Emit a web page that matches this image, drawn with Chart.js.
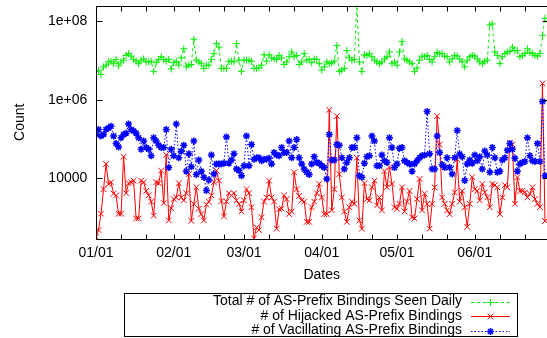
<!DOCTYPE html>
<html>
<head>
<meta charset="utf-8">
<script src="https://cdn.jsdelivr.net/npm/chart.js@4.4.1/dist/chart.umd.min.js"></script>
<style>
  html, body { margin: 0; padding: 0; width: 547px; height: 338px; overflow: hidden; background: #fff; }
  #wrap { width: 553px; height: 338px; }
</style>
</head>
<body>
<div id="wrap"><canvas id="chart" width="553" height="338"></canvas></div>
<script>
// series names, as in the key
const seriesNames = [
  'Total # of AS-Prefix Bindings Seen Daily',
  '# of Hijacked AS-Prefix Bindings',
  '# of Vacillating AS-Prefix Bindings'
];

// x axis: day index from 01/01, labels on month starts, tick marks on 1st/11th/21st
const monthLabels = ['01/01', '02/01', '03/01', '04/01', '05/01', '06/01'];
const monthDays = [0, 31, 59, 90, 120, 151];
const tickDays = [0, 10, 20, 31, 41, 51, 59, 69, 79, 90, 100, 110, 120, 130, 140, 151, 161, 171];

// y axis (log)
const yTickValues = [1e4, 1e6, 1e8];
const yTickLabels = ['10000', '1e+06', '1e+08'];

// daily counts, one value per day from 01/01
const totalSeen = [
  5.2e6, 5.6e6, 4.4e6, 6.9e6, 7.6e6, 9.2e6, 9.6e6, 8.3e6, 1.07e7, 7.3e6,
  9.2e6, 1.02e7, 1.35e7, 1.5e7, 1.3e7, 1.07e7, 9.6e6, 8.3e6, 1.02e7, 1.1e7,
  9.2e6, 9.2e6, 9.6e6, 5.2e6, 8.8e6, 1.07e7, 1.25e7, 1.07e7, 9.6e6, 1.07e7,
  6.1e6, 8.8e6, 9.6e6, 7.6e6, 1.17e7, 2.0e7, 6.9e6, 7.6e6, 7.9e6, 3.5e7,
  1.02e7, 9.2e6, 8.3e6, 6.3e6, 7.6e6, 7.6e6, 1.07e7, 1.5e7, 2.7e7, 2.2e7,
  6.3e6, 6.3e6, 6.3e6, 9.6e6, 9.6e6, 9.2e6, 2.7e7, 1.02e7, 5.3e6, 1.02e7,
  1.02e7, 1.02e7, 9.6e6, 6.3e6, 6.3e6, 6.5e6, 7.6e6, 1.4e7, 9.6e6, 1.4e7,
  1.17e7, 1.1e7, 1.07e7, 1.35e7, 1.17e7, 7.9e6, 9.2e6, 1.25e7, 1.66e7, 1.25e7,
  1.35e7, 7.9e6, 9.2e6, 1.5e7, 1.02e7, 1.07e7, 8.8e6, 1.1e7, 1.07e7, 8.3e6,
  5.7e6, 6.9e6, 9.2e6, 8.3e6, 8.8e6, 9.6e6, 2.4e7, 5.3e6, 5.7e6, 6.3e6,
  1.8e7, 1.17e7, 1.02e7, 1.07e7, 3e8, 9.2e6, 5.2e6, 1.4e7, 1.35e7, 1.5e7,
  1.25e7, 1.02e7, 9.2e6, 8.3e6, 9.2e6, 1.1e7, 1.25e7, 1.66e7, 8.3e6, 9.2e6,
  7.6e6, 1.66e7, 3.1e7, 1.1e7, 1.02e7, 9.2e6, 8.3e6, 5.2e6, 6.5e6, 1.02e7,
  1.3e7, 1.25e7, 1.35e7, 1.07e7, 9.2e6, 1.25e7, 1.6e7, 1.5e7, 1.5e7, 1.3e7,
  1.25e7, 9.2e6, 1.1e7, 1.35e7, 1.3e7, 1.1e7, 9.2e6, 6.9e6, 1.02e7, 1.25e7,
  1.35e7, 1.3e7, 1.1e7, 9.2e6, 8.3e6, 9.6e6, 1.02e7, 8.1e7, 8.6e7, 1.66e7,
  1.35e7, 8.3e6, 1.25e7, 1.5e7, 1.66e7, 1.7e7, 2.2e7, 1.8e7, 1.8e7, 1.25e7,
  1.35e7, 1.5e7, 2.0e7, 1.6e7, 1.5e7, 1.35e7, 1.3e7, 1.5e7, 4.4e7, 1.2e8
];

const hijacked = [
  310, 470, 1230, 5200, 23000, 7100, 7800, 4000, 3600, 1230,
  1230, 35000, 4100, 7400, 7800, 8600, 930, 930, 8600, 7800,
  4700, 3600, 2500, 1100, 7800, 7400, 15500, 2300, 39000, 830,
  1700, 2900, 3200, 7400, 3200, 2700, 4100, 12600, 810, 2200,
  5800, 1650, 1200, 830, 2100, 2500, 3600, 7800, 15500, 8600,
  2600, 1050, 2500, 4100, 3600, 4100, 2700, 2200, 1400, 2700,
  5200, 4100, 1800, 290, 550, 470, 1000, 2500, 3200, 8600,
  3200, 2500, 510, 1600, 1650, 3600, 2900, 1200, 1400, 14000,
  5200, 3500, 2700, 2500, 760, 760, 1800, 2500, 4100, 7100,
  3200, 1200, 1200, 5.5e5, 1500, 5200, 3.8e5, 12600, 3200, 1400,
  760, 1800, 2500, 2200, 33000, 830, 510, 7400, 2900, 2700,
  5800, 8600, 2000, 3200, 1500, 15000, 5800, 19000, 7100, 1800,
  1650, 2200, 5800, 1400, 2500, 4700, 1000, 930, 2900, 9500,
  1500, 4000, 2200, 510, 2200, 5800, 3.8e5, 72000, 3200, 2200,
  1500, 1200, 2200, 4300, 30000, 2500, 4700, 1800, 570, 2200,
  10500, 5200, 4700, 2700, 7100, 4300, 3200, 1800, 7100, 6600,
  5800, 1200, 3200, 6600, 5800, 80000, 72000, 2200, 10500, 4700,
  4700, 4300, 3200, 4000, 5800, 2900, 2200, 1800, 2.6e6, 800
];

const vacillating = [
  1.3e5, 1.73e5, 1.18e5, 1.3e5, 1.73e5, 1.9e5, 2.1e5, 1.18e5, 7.6e4, 6.2e4,
  1.07e5, 1.3e5, 1.4e5, 2.4e5, 1.73e5, 1.6e5, 1.4e5, 1.07e5, 5.4e4, 8.8e4,
  6e4, 5.4e4, 3.7e4, 1.07e5, 8.8e4, 6.9e4, 6e4, 6e4, 1.73e5, 1.86e4,
  5.4e4, 3.7e4, 2.4e5, 3.3e4, 4.8e4, 6.9e4, 1.5e4, 4.2e4, 1.95e4, 8.8e4,
  1.23e4, 2.9e4, 1.5e4, 1.05e4, 4.8e3, 8.9e3, 3.9e4, 1.26e4, 2.3e4, 2.3e4,
  2.3e4, 2.4e4, 1.12e5, 2.4e4, 2.9e4, 4.2e4, 1.7e4, 1.55e4, 1.15e4, 2.05e4,
  1.18e5, 2.05e4, 7.2e4, 3e4, 3.3e4, 3.3e4, 2.75e4, 3e4, 3e4, 3.2e4,
  2.3e4, 4.5e4, 3.9e4, 3.7e4, 6e4, 4.5e4, 4.5e4, 8.8e4, 3.3e4, 6e4,
  9.6e4, 3.3e4, 2.3e4, 1.7e4, 1.4e4, 1.23e4, 2.3e4, 3.5e4, 2.5e4, 2.4e4,
  2.05e4, 1.86e4, 9.5e3, 1.3e5, 2.9e4, 2.9e4, 7.2e4, 6.9e4, 3.3e4, 1.7e4,
  2.5e4, 3.3e4, 6e4, 6e4, 1.07e5, 1.15e4, 1.05e4, 2.4e4, 3.5e4, 3.7e4,
  1.18e5, 8.8e4, 2.05e4, 2.05e4, 3.9e4, 2.75e4, 2.5e4, 1.07e5, 6e4, 1.86e4,
  2.3e4, 5.8e4, 6e4, 2.75e4, 2.5e4, 2.3e4, 1.5e4, 2.3e4, 2.75e4, 3.3e4,
  3.7e4, 3.9e4, 5e5, 4.2e4, 1.7e4, 1.7e4, 1.18e5, 4.5e4, 2.2e4, 1.86e4,
  3.3e4, 1.86e4, 1.26e4, 3.3e4, 1.63e5, 4.1e4, 3.5e4, 8.6e3, 2.3e4, 2.9e4,
  2.4e4, 3.9e4, 2.75e4, 3.5e4, 1.7e4, 4.9e4, 3.9e4, 1.4e4, 6e4, 3.3e4,
  1.4e4, 1.5e4, 2.9e4, 3.3e4, 5.1e4, 7.6e4, 5.4e4, 3.2e4, 1.5e4, 2.3e4,
  2.5e4, 2.65e4, 1.07e5, 3.7e4, 2.75e4, 2.65e4, 7.6e4, 2.65e4, 9e5, 1.15e4
];

const FONT = { family: "'Liberation Sans', Arial, sans-serif", size: 14 };
Chart.defaults.font.family = FONT.family;
Chart.defaults.font.size = FONT.size;
Chart.defaults.color = '#000';

const toPoints = arr => arr.map((v, i) => ({ x: i, y: v }));

// gnuplot style box with inward tics on all four sides
const frame = {
  id: 'frame',
  afterDatasetsDraw(chart) {
    const { ctx, chartArea: a, scales: { x, y } } = chart;
    const L = Math.round(a.left) + 0.5, R = Math.round(a.right) + 0.5;
    const T = Math.round(a.top) + 0.5, B = Math.round(a.bottom) + 0.5;
    ctx.save();
    ctx.strokeStyle = '#000';
    ctx.lineWidth = 1;
    ctx.beginPath();
    ctx.rect(L, T, R - L, B - T);
    tickDays.forEach(d => {
      const px = Math.round(x.getPixelForValue(d)) + 0.5;
      ctx.moveTo(px, B); ctx.lineTo(px, B - 5);
      ctx.moveTo(px, T); ctx.lineTo(px, T + 5);
    });
    yTickValues.forEach(v => {
      const py = Math.round(y.getPixelForValue(v)) + 0.5;
      ctx.moveTo(L, py); ctx.lineTo(L + 6, py);
      ctx.moveTo(R, py); ctx.lineTo(R - 6, py);
    });
    ctx.stroke();
    ctx.restore();
  }
};

// key under the plot: right-aligned titles, sample line to the right
const keyBox = {
  id: 'keyBox',
  afterDraw(chart) {
    const ctx = chart.ctx;
    ctx.save();
    ctx.strokeStyle = '#000';
    ctx.lineWidth = 1;
    ctx.strokeRect(124.5, 293.5, 393, 43);
    ctx.font = FONT.size + 'px ' + FONT.family;
    ctx.textAlign = 'right';
    ctx.textBaseline = 'middle';
    chart.data.datasets.forEach((ds, i) => {
      const yy = 301.5 + i * 14.5;
      ctx.fillStyle = '#000';
      ctx.fillText(ds.label, 462, yy);
      ctx.strokeStyle = ds.borderColor;
      ctx.fillStyle = ds.borderColor;
      ctx.lineWidth = ds.borderWidth;
      ctx.setLineDash(ds.borderDash || []);
      ctx.beginPath();
      ctx.moveTo(471, Math.round(yy) + 0.5);
      ctx.lineTo(510, Math.round(yy) + 0.5);
      ctx.stroke();
      ctx.setLineDash([]);
      ctx.lineWidth = ds.pointBorderWidth;
      Chart.helpers.drawPoint(ctx, {
        pointStyle: ds.pointStyle, radius: ds.pointRadius,
        borderWidth: ds.pointBorderWidth, rotation: 0
      }, 490.5, Math.round(yy) + 0.5);
    });
    ctx.restore();
  }
};

new Chart(document.getElementById('chart'), {
  type: 'line',
  data: {
    datasets: [
      {
        label: seriesNames[0], data: toPoints(totalSeen), order: 3,
        borderColor: '#00ee00', borderWidth: 1, borderDash: [3, 3],
        pointStyle: 'cross', pointRadius: 3.5, pointBorderWidth: 1,
        pointBorderColor: '#00ee00', pointBackgroundColor: '#00ee00'
      },
      {
        label: seriesNames[1], data: toPoints(hijacked), order: 2,
        borderColor: '#ff0000', borderWidth: 1,
        pointStyle: 'crossRot', pointRadius: 4, pointBorderWidth: 1,
        pointBorderColor: '#ff0000', pointBackgroundColor: '#ff0000'
      },
      {
        label: seriesNames[2], data: toPoints(vacillating), order: 1,
        borderColor: '#0000ff', borderWidth: 1, borderDash: [1.5, 2],
        pointStyle: 'star', pointRadius: 3.5, pointBorderWidth: 1.5,
        pointBorderColor: '#0000ff', pointBackgroundColor: '#0000ff'
      }
    ]
  },
  options: {
    responsive: false,
    animation: false,
    devicePixelRatio: 1,
    events: [],
    layout: { padding: { left: 0, right: 3.4, top: 3, bottom: 52.6 } },
    elements: { line: { tension: 0, fill: false } },
    plugins: { legend: { display: false }, tooltip: { enabled: false } },
    scales: {
      x: {
        type: 'linear', min: 0, max: 180,
        grid: { display: false, drawTicks: false },
        border: { display: false },
        afterBuildTicks: s => { s.ticks = monthDays.map(v => ({ value: v })); },
        ticks: {
          autoSkip: false, maxRotation: 0, padding: 6,
          callback: v => monthLabels[monthDays.indexOf(v)]
        },
        title: { display: true, text: 'Dates', padding: { top: 0, bottom: 2 } },
        afterFit: s => { s.height = 46.4; s.paddingLeft = 0; s.paddingRight = 0; }
      },
      y: {
        type: 'logarithmic', min: 278, max: 2.54e8,
        grid: { display: false, drawTicks: false },
        border: { display: false },
        afterBuildTicks: s => { s.ticks = yTickValues.map(v => ({ value: v })); },
        ticks: {
          autoSkip: false, padding: 8.7,
          callback: v => yTickLabels[yTickValues.indexOf(v)]
        },
        title: { display: true, text: 'Count', padding: { top: 12, bottom: 0 } },
        afterFit: s => { s.width = 96; s.paddingTop = 0; s.paddingBottom = 0; }
      }
    }
  },
  plugins: [frame, keyBox]
});
</script>
</body>
</html>
